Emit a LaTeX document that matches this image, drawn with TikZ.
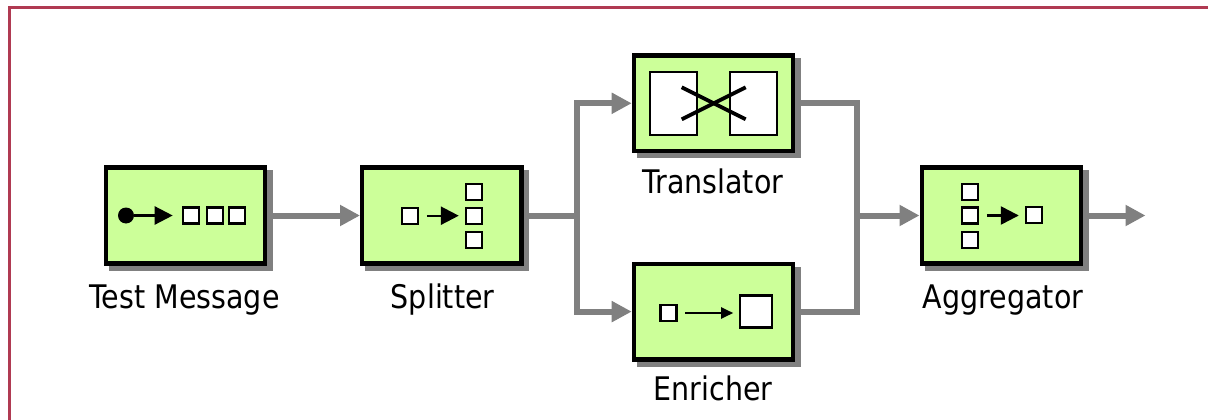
\documentclass[tikz,border=0pt]{standalone}
\usepackage{fontspec}
\setmainfont[FakeStretch=0.878]{DejaVu Sans}
\usetikzlibrary{arrows.meta,shadows,backgrounds,calc}
\definecolor{boxfill}{HTML}{CCFF99}
\definecolor{flowgray}{HTML}{808080}
\definecolor{frameRed}{HTML}{B03A52}
\tikzset{
  eip/.style={draw=black,line width=4.4pt,fill=boxfill,rectangle,inner sep=0pt,
    minimum width=159.2pt,minimum height=95.8pt,
    general shadow={fill=flowgray,draw=flowgray,line width=4.4pt,shadow xshift=5.4pt,shadow yshift=-5pt}},
  flow/.style={draw=flowgray,line width=6pt,line join=miter},
  flowtip/.style={flow,-{Triangle[length=20pt,width=20pt]}},
  msg/.style={draw=black,line width=2.4pt,fill=white,rectangle,inner sep=0pt,minimum size=16pt},
  bigmsg/.style={draw=black,line width=2.2pt,fill=white,rectangle,inner sep=0pt},
  iconarrow/.style={draw=black,line width=2.4pt,-{Triangle[length=18pt,width=18pt]}},
  thinarrow/.style={draw=black,line width=2.2pt,-{Triangle[length=12pt,width=11pt]}},
  caption/.style={anchor=base,inner sep=0pt,font=\fontsize{32.5pt}{36pt}\selectfont,text=black},
  crossline/.style={draw=black,line width=3.8pt},
}
\begin{document}
\begin{tikzpicture}[x=1pt,y=-1pt]
\useasboundingbox (0,0) rectangle (1208,420);
% boxes
\node[eip] (test) at (185.3,215.5) {};
\node[eip] (split) at (441.8,215.5) {};
\node[eip] (trans) at (713.5,103.3) {};
\node[eip] (enrich) at (713.5,311.6) {};
\node[eip] (aggr) at (1001.3,215.5) {};
% junctions
\coordinate (fork) at (577.3,215.5);
\coordinate (merge) at (857.3,215.5);
\coordinate (outEnd) at (1145.5,215.5);
% connectors
\begin{scope}[on background layer]
\fill[white] (0,0) rectangle (1208,420);
\draw[frameRed,line width=3.2pt] (9.5,420) -- (9.5,7.5) -- (1208,7.5);
\draw[flowtip] (test.east) -- (split.west);
\draw[flow] (split.east) -- (fork);
\draw[flowtip] (fork) |- (trans.west);
\draw[flowtip] (fork) |- (enrich.west);
\draw[flow] (trans.east) -| (merge);
\draw[flow] (enrich.east) -| (merge);
\draw[flowtip] ($(merge)+(-3,0)$) -- (aggr.west);
\draw[flowtip] (aggr.east) -- (outEnd);
\end{scope}
% test message icon
\node[circle,fill=black,inner sep=0pt,minimum size=16pt] (dot) at (126,215.5) {};
\node[msg] (t1) at (191.2,215.5) {};
\node[msg] (t2) at (214.7,215.5) {};
\node[msg] (t3) at (236.7,215.5) {};
\draw[iconarrow,shorten >=9.3pt] (dot) -- (t1.west);
% splitter icon
\node[msg] (s0) at (409.7,215.7) {};
\node[msg] (s1) at (473.7,192) {};
\node[msg] (s2) at (473.7,215.7) {};
\node[msg] (s3) at (473.7,240) {};
\draw[iconarrow,shorten <=8pt,shorten >=5.7pt] (s0.east) -- (s2.west);
% translator icon
\node[bigmsg,minimum width=47pt,minimum height=63.5pt] (m1) at (673.5,103.5) {};
\node[bigmsg,minimum width=47pt,minimum height=63.5pt] (m2) at (753.5,103.5) {};
\coordinate (x1) at (681.7,87.3);
\coordinate (x2) at (745.7,119.3);
\coordinate (x3) at (681.7,119.3);
\coordinate (x4) at (745.7,87.3);
\draw[crossline] (x1) -- (x2);
\draw[crossline] (x3) -- (x4);
% enricher icon
\node[msg] (e1) at (668.3,313) {};
\node[bigmsg,minimum size=32pt] (e2) at (756,311.5) {};
\draw[thinarrow,shorten <=7.7pt,shorten >=5.7pt] (e1.east) -- (e1.east -| e2.west);
% aggregator icon
\node[msg] (a1) at (969.7,191.7) {};
\node[msg] (a2) at (969.7,215.5) {};
\node[msg] (a3) at (969.7,239.7) {};
\node[msg] (a4) at (1033.7,214.7) {};
\draw[iconarrow,shorten <=8pt,shorten >=5.7pt] (a2.east) -- (a2.east -| a4.west);
% captions
\node[caption] (ltest) at (184.5,308.2) {Test Message};
\node[caption] (lsplit) at (442.7,308.2) {Splitter};
\node[caption] (ltrans) at (712.7,193.2) {Translator};
\node[caption] (lenrich) at (713,400.5) {Enricher};
\node[caption] (laggr) at (1003,308.2) {Aggregator};
\end{tikzpicture}
\end{document}
